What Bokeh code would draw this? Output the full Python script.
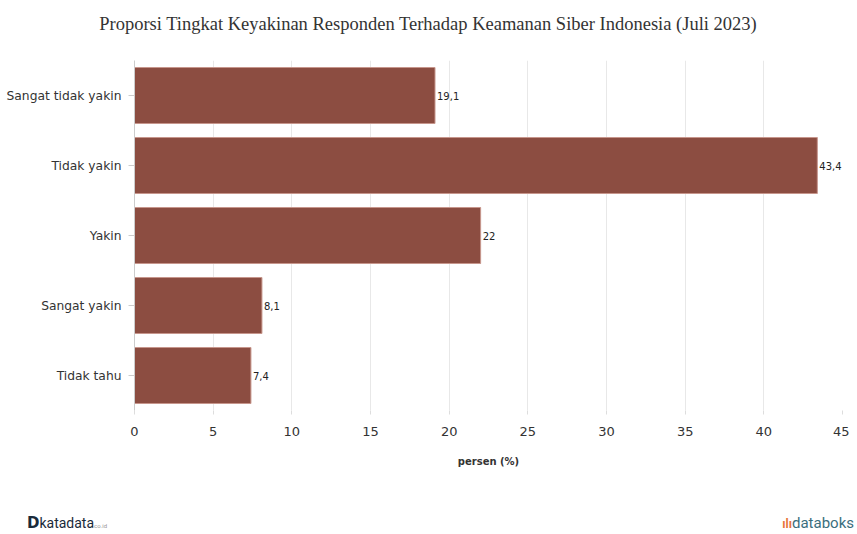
from bokeh.plotting import figure
from bokeh.models import ColumnDataSource, FixedTicker, Div
from bokeh.layouts import column
from bokeh.core.properties import value
from bokeh.embed import file_html
from bokeh.resources import INLINE

categories = ["Sangat tidak yakin", "Tidak yakin", "Yakin", "Sangat yakin", "Tidak tahu"]
values = [19.1, 43.4, 22, 8.1, 7.4]
x_ticks = [0, 5, 10, 15, 20, 25, 30, 35, 40, 45]
title_text = "Proporsi Tingkat Keyakinan Responden Terhadap Keamanan Siber Indonesia (Juli 2023)"
x_label = "persen (%)"

labels = [f"{v:g}".replace(".", ",") for v in values]
source = ColumnDataSource(dict(cat=categories, val=values, lab=labels))

title_div = Div(
    width=849, height=40, margin=0,
    text=(
        '<div style="width:856px;height:40px;text-align:center;padding-top:12px;'
        'box-sizing:border-box;font-family:\'Liberation Serif\',serif;font-size:18.5px;'
        'line-height:24px;color:#333333;">' + title_text + '</div>'
    ),
)

p = figure(
    y_range=list(reversed(categories)),
    x_range=(0, 45),
    width=849, height=468,
    output_backend="svg", toolbar_location=None,
    min_border_left=134, min_border_right=7,
    min_border_top=20, min_border_bottom=98,
)
p.outline_line_color = None
p.background_fill_color = "white"
p.border_fill_color = "white"

p.hbar(y="cat", right="val", height=0.8, left=0, source=source,
       fill_color="#8c4d41", line_color="#c7968c", line_width=1)

p.text(x="val", y="cat", text="lab", source=source,
       x_offset=2, text_baseline="middle", text_align="left",
       text_font=value("DejaVu Sans"), text_font_size="10px", text_color="#222222")

# x axis
p.xaxis.ticker = FixedTicker(ticks=x_ticks)
p.xaxis.axis_line_color = None
p.xaxis.major_tick_line_color = "#dddddd"
p.xaxis.major_tick_out = 4
p.xaxis.major_tick_in = 0
p.xaxis.minor_tick_line_color = None
p.xaxis.major_label_standoff = 12
p.xaxis.major_label_text_font = "DejaVu Sans"
p.xaxis.major_label_text_font_size = "13px"
p.xaxis.major_label_text_color = "#333333"
p.xaxis.axis_label = x_label
p.xaxis.axis_label_text_font = "DejaVu Sans"
p.xaxis.axis_label_text_font_size = "10px"
p.xaxis.axis_label_text_font_style = "bold"
p.xaxis.axis_label_text_color = "#333333"
p.xaxis.axis_label_standoff = 17

# y axis
p.yaxis.axis_line_color = "#cccccc"
p.yaxis.major_tick_line_color = "#cccccc"
p.yaxis.major_tick_out = 6
p.yaxis.major_tick_in = 0
p.yaxis.minor_tick_line_color = None
p.yaxis.major_label_standoff = 7
p.yaxis.major_label_text_font = "DejaVu Sans"
p.yaxis.major_label_text_font_size = "12.3px"
p.yaxis.major_label_text_color = "#333333"

p.xgrid.grid_line_color = "#e8e8e8"
p.ygrid.grid_line_color = None

footer = Div(
    width=849, height=24, margin=0,
    text=(
        '<div style="width:856px;display:flex;justify-content:space-between;align-items:center;'
        'height:18px;margin-top:7px;font-family:Roboto,sans-serif;">'
        '<span style="margin-left:27px;color:#1a2a3a;font-size:14px;">'
        '<b style="font-family:\'DejaVu Sans\';font-size:15px;">D</b>katadata'
        '<span style="font-size:6px;color:#999;">co.id</span></span>'
        '<span style="margin-right:2px;color:#3b6e7d;font-size:15px;">'
        '<b style="color:#e8743b;font-size:12px;">ılı</b>databoks</span>'
        '</div>'
    ),
)

layout = column(title_div, p, footer, spacing=0)
open("out.html", "w").write(file_html(layout, INLINE))
